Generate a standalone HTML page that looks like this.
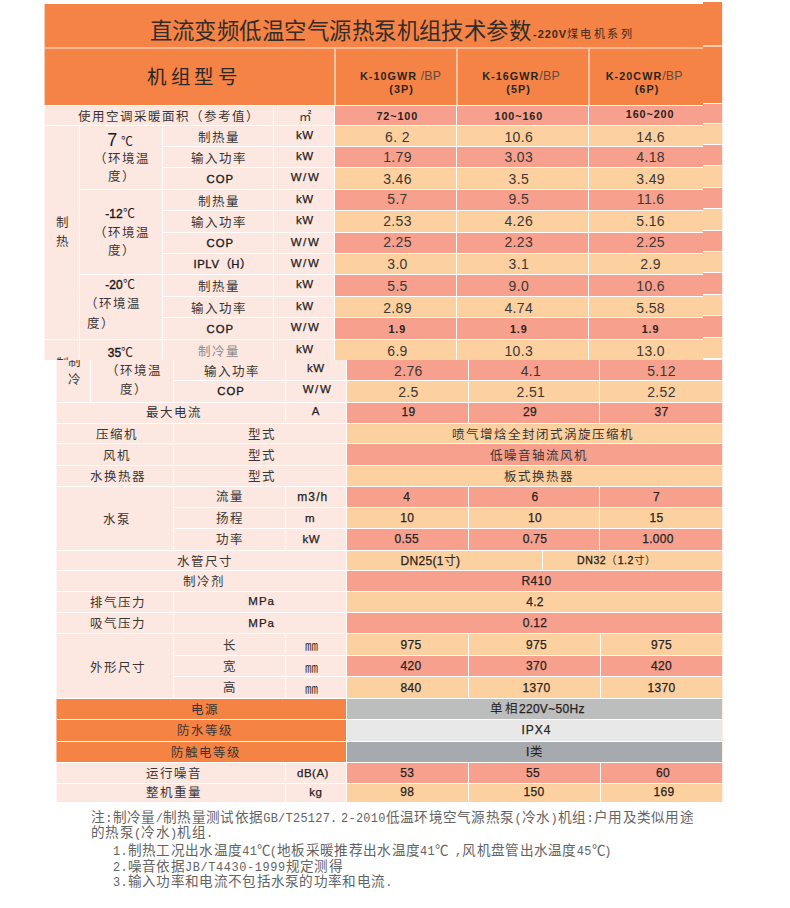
<!DOCTYPE html>
<html lang="zh-CN"><head><meta charset="utf-8"><title>直流变频低温空气源热泵机组技术参数</title>
<style>
html,body{margin:0;padding:0;background:#fff}
body{width:790px;height:908px;position:relative;overflow:hidden;font-family:"Liberation Sans",sans-serif;color:#222}
.b{position:absolute}
.t{position:absolute;white-space:nowrap;transform:translate(-50%,-50%);line-height:1;text-align:center}
.ti{font-size:22.4px;color:#332c28;letter-spacing:.45px;text-indent:.45px}
.ts{font-size:11px;color:#3a2a20}
.ts b{font-weight:bold;letter-spacing:.9px}
.ts i{font-style:normal;font-family:"Liberation Serif",serif;font-size:11px;letter-spacing:2.5px;margin-left:0}
.hd{font-family:"Liberation Serif",serif;font-size:19.5px;letter-spacing:3.4px;color:#2a2624;text-indent:3.4px}
.mh{font-size:10.8px;color:#2b2422;letter-spacing:1.05px}
.mh b{font-weight:bold}
.mh u{text-decoration:none;color:#5a4a44;font-size:12.3px;letter-spacing:.2px}
.cj{margin-top:1px;font-family:"Liberation Serif",serif;font-size:12.5px;letter-spacing:1px;text-indent:1px;color:#3a3432}
.cb{font-weight:bold;font-size:10.8px;letter-spacing:.9px;color:#2a2220}
.cbn{font-size:11.3px;letter-spacing:1px;color:#1c1a1a;-webkit-text-stroke:.35px #1c1a1a}
.un{font-size:11.5px;color:#1e1c1c;-webkit-text-stroke:.25px #1e1c1c;letter-spacing:.5px}
.ar{font-size:14px;color:#3c3836;letter-spacing:.35px}
.tp{font-size:12px;color:#1c1a1a;-webkit-text-stroke:.4px #1c1a1a}
.dc{font-weight:normal;font-size:12px;-webkit-text-stroke:0}
.lb{margin-top:-1px;font-size:12px;color:#262220;-webkit-text-stroke:.25px #262220;letter-spacing:.3px}
.lbs{font-size:10.6px;color:#262220;-webkit-text-stroke:.3px #262220;letter-spacing:.5px}
.cjs{font-family:"Liberation Serif",serif;-webkit-text-stroke:0;font-weight:normal}
.cj2{font-family:"Liberation Serif",serif;-webkit-text-stroke:0;font-size:12.5px;letter-spacing:1.3px}
.n{position:absolute;white-space:nowrap;transform:translate(0,-50%);line-height:1;font-family:"Liberation Serif",serif;font-size:13.6px;letter-spacing:.3px;color:#636363}
.n .m{font-family:"Liberation Mono",monospace;font-size:11.9px}
.n .c{margin-right:-1.8px}
.n .g{display:inline-block;width:3.5px}
.n .w{letter-spacing:.6px}
</style></head>
<body>
<div class="b" style="left:45px;top:4px;width:658px;height:101px;background:#F58345;"></div>
<div class="b" style="left:44px;top:4px;width:1px;height:101px;background:#F58345;opacity:.45;"></div>
<div class="b" style="left:703px;top:2px;width:19px;height:101px;background:#F58345;"></div>
<div class="b" style="left:45px;top:47px;width:658px;height:2px;background:#F9B692;"></div>
<div class="b" style="left:703px;top:45px;width:19px;height:2px;background:#FBCBB0;"></div>
<div class="b" style="left:334px;top:49px;width:2px;height:56px;background:#FBC3A0;"></div>
<div class="b" style="left:456px;top:49px;width:2px;height:56px;background:#FBC3A0;"></div>
<div class="b" style="left:588px;top:49px;width:2px;height:56px;background:#FBC3A0;"></div>
<div class="b" style="left:45px;top:106px;width:290px;height:254px;background:#FCE8E1;"></div>
<div class="b" style="left:44px;top:106px;width:1px;height:254px;background:#FCE8E1;opacity:.45;"></div>
<div class="b" style="left:335px;top:106px;width:121px;height:19px;background:#F6A08D;"></div>
<div class="b" style="left:457px;top:106px;width:131px;height:19px;background:#F6A08D;"></div>
<div class="b" style="left:589px;top:106px;width:114px;height:19px;background:#F6A08D;"></div>
<div class="b" style="left:703px;top:104px;width:19px;height:19px;background:#F6A08D;"></div>
<div class="b" style="left:335px;top:126px;width:121px;height:20px;background:#FDD09F;"></div>
<div class="b" style="left:457px;top:126px;width:131px;height:20px;background:#FDD09F;"></div>
<div class="b" style="left:589px;top:126px;width:114px;height:20px;background:#FDD09F;"></div>
<div class="b" style="left:703px;top:124px;width:19px;height:20px;background:#FDD09F;"></div>
<div class="b" style="left:335px;top:147px;width:121px;height:20px;background:#F6A08D;"></div>
<div class="b" style="left:457px;top:147px;width:131px;height:20px;background:#F6A08D;"></div>
<div class="b" style="left:589px;top:147px;width:114px;height:20px;background:#F6A08D;"></div>
<div class="b" style="left:703px;top:145px;width:19px;height:20px;background:#F6A08D;"></div>
<div class="b" style="left:335px;top:168px;width:121px;height:21px;background:#FDD09F;"></div>
<div class="b" style="left:457px;top:168px;width:131px;height:21px;background:#FDD09F;"></div>
<div class="b" style="left:589px;top:168px;width:114px;height:21px;background:#FDD09F;"></div>
<div class="b" style="left:703px;top:166px;width:19px;height:21px;background:#FDD09F;"></div>
<div class="b" style="left:335px;top:190px;width:121px;height:20px;background:#F6A08D;"></div>
<div class="b" style="left:457px;top:190px;width:131px;height:20px;background:#F6A08D;"></div>
<div class="b" style="left:589px;top:190px;width:114px;height:20px;background:#F6A08D;"></div>
<div class="b" style="left:703px;top:188px;width:19px;height:20px;background:#F6A08D;"></div>
<div class="b" style="left:335px;top:211px;width:121px;height:21px;background:#FDD09F;"></div>
<div class="b" style="left:457px;top:211px;width:131px;height:21px;background:#FDD09F;"></div>
<div class="b" style="left:589px;top:211px;width:114px;height:21px;background:#FDD09F;"></div>
<div class="b" style="left:703px;top:209px;width:19px;height:21px;background:#FDD09F;"></div>
<div class="b" style="left:335px;top:233px;width:121px;height:20px;background:#F6A08D;"></div>
<div class="b" style="left:457px;top:233px;width:131px;height:20px;background:#F6A08D;"></div>
<div class="b" style="left:589px;top:233px;width:114px;height:20px;background:#F6A08D;"></div>
<div class="b" style="left:703px;top:231px;width:19px;height:20px;background:#F6A08D;"></div>
<div class="b" style="left:335px;top:254px;width:121px;height:20px;background:#FDD09F;"></div>
<div class="b" style="left:457px;top:254px;width:131px;height:20px;background:#FDD09F;"></div>
<div class="b" style="left:589px;top:254px;width:114px;height:20px;background:#FDD09F;"></div>
<div class="b" style="left:703px;top:252px;width:19px;height:20px;background:#FDD09F;"></div>
<div class="b" style="left:335px;top:275px;width:121px;height:21px;background:#F6A08D;"></div>
<div class="b" style="left:457px;top:275px;width:131px;height:21px;background:#F6A08D;"></div>
<div class="b" style="left:589px;top:275px;width:114px;height:21px;background:#F6A08D;"></div>
<div class="b" style="left:703px;top:273px;width:19px;height:21px;background:#F6A08D;"></div>
<div class="b" style="left:335px;top:297px;width:121px;height:20px;background:#FDD09F;"></div>
<div class="b" style="left:457px;top:297px;width:131px;height:20px;background:#FDD09F;"></div>
<div class="b" style="left:589px;top:297px;width:114px;height:20px;background:#FDD09F;"></div>
<div class="b" style="left:703px;top:295px;width:19px;height:20px;background:#FDD09F;"></div>
<div class="b" style="left:335px;top:318px;width:121px;height:21px;background:#F6A08D;"></div>
<div class="b" style="left:457px;top:318px;width:131px;height:21px;background:#F6A08D;"></div>
<div class="b" style="left:589px;top:318px;width:114px;height:21px;background:#F6A08D;"></div>
<div class="b" style="left:703px;top:316px;width:19px;height:21px;background:#F6A08D;"></div>
<div class="b" style="left:335px;top:340px;width:121px;height:20px;background:#FDD09F;"></div>
<div class="b" style="left:457px;top:340px;width:131px;height:20px;background:#FDD09F;"></div>
<div class="b" style="left:589px;top:340px;width:114px;height:20px;background:#FDD09F;"></div>
<div class="b" style="left:703px;top:338px;width:19px;height:20px;background:#FDD09F;"></div>
<div class="b" style="left:162px;top:125px;width:172px;height:1px;background:#fff;"></div>
<div class="b" style="left:162px;top:146px;width:172px;height:1px;background:#fff;"></div>
<div class="b" style="left:162px;top:167px;width:172px;height:1px;background:#fff;"></div>
<div class="b" style="left:162px;top:189px;width:172px;height:1px;background:#fff;"></div>
<div class="b" style="left:162px;top:210px;width:172px;height:1px;background:#fff;"></div>
<div class="b" style="left:162px;top:232px;width:172px;height:1px;background:#fff;"></div>
<div class="b" style="left:162px;top:253px;width:172px;height:1px;background:#fff;"></div>
<div class="b" style="left:162px;top:274px;width:172px;height:1px;background:#fff;"></div>
<div class="b" style="left:162px;top:296px;width:172px;height:1px;background:#fff;"></div>
<div class="b" style="left:162px;top:317px;width:172px;height:1px;background:#fff;"></div>
<div class="b" style="left:162px;top:339px;width:172px;height:1px;background:#fff;"></div>
<div class="b" style="left:45px;top:125px;width:117px;height:1px;background:#fff;"></div>
<div class="b" style="left:79px;top:189px;width:83px;height:1px;background:#fff;"></div>
<div class="b" style="left:79px;top:274px;width:83px;height:1px;background:#fff;"></div>
<div class="b" style="left:45px;top:339px;width:117px;height:1px;background:#fff;"></div>
<div class="b" style="left:79px;top:126px;width:1px;height:234px;background:#fff;"></div>
<div class="b" style="left:162px;top:126px;width:1px;height:234px;background:#fff;"></div>
<div class="b" style="left:273px;top:106px;width:1px;height:254px;background:#fff;"></div>
<div class="b" style="left:334px;top:106px;width:1px;height:254px;background:#fff;"></div>
<div class="b" style="left:57px;top:360px;width:289px;height:442px;background:#FCE8E1;"></div>
<div class="b" style="left:56px;top:360px;width:1px;height:442px;background:#FCE8E1;opacity:.5;"></div>
<div class="b" style="left:56px;top:699px;width:1px;height:63px;background:#F58344;opacity:.5;"></div>
<div class="b" style="left:347px;top:360px;width:121px;height:20px;background:#F6A08D;"></div>
<div class="b" style="left:469px;top:360px;width:130px;height:20px;background:#F6A08D;"></div>
<div class="b" style="left:600px;top:360px;width:122px;height:20px;background:#F6A08D;"></div>
<div class="b" style="left:347px;top:381px;width:121px;height:21px;background:#FDD09F;"></div>
<div class="b" style="left:469px;top:381px;width:130px;height:21px;background:#FDD09F;"></div>
<div class="b" style="left:600px;top:381px;width:122px;height:21px;background:#FDD09F;"></div>
<div class="b" style="left:347px;top:403px;width:121px;height:20px;background:#F6A08D;"></div>
<div class="b" style="left:469px;top:403px;width:130px;height:20px;background:#F6A08D;"></div>
<div class="b" style="left:600px;top:403px;width:122px;height:20px;background:#F6A08D;"></div>
<div class="b" style="left:347px;top:424px;width:375px;height:19px;background:#FDD09F;"></div>
<div class="b" style="left:347px;top:444px;width:375px;height:21px;background:#F6A08D;"></div>
<div class="b" style="left:347px;top:466px;width:375px;height:20px;background:#FDD09F;"></div>
<div class="b" style="left:347px;top:487px;width:121px;height:20px;background:#F6A08D;"></div>
<div class="b" style="left:469px;top:487px;width:130px;height:20px;background:#F6A08D;"></div>
<div class="b" style="left:600px;top:487px;width:122px;height:20px;background:#F6A08D;"></div>
<div class="b" style="left:347px;top:508px;width:121px;height:20px;background:#FDD09F;"></div>
<div class="b" style="left:469px;top:508px;width:130px;height:20px;background:#FDD09F;"></div>
<div class="b" style="left:600px;top:508px;width:122px;height:20px;background:#FDD09F;"></div>
<div class="b" style="left:347px;top:529px;width:121px;height:21px;background:#F6A08D;"></div>
<div class="b" style="left:469px;top:529px;width:130px;height:21px;background:#F6A08D;"></div>
<div class="b" style="left:600px;top:529px;width:122px;height:21px;background:#F6A08D;"></div>
<div class="b" style="left:347px;top:551px;width:195px;height:19px;background:#FDD09F;"></div>
<div class="b" style="left:543px;top:551px;width:179px;height:19px;background:#FDD09F;"></div>
<div class="b" style="left:347px;top:571px;width:375px;height:20px;background:#F6A08D;"></div>
<div class="b" style="left:347px;top:592px;width:375px;height:20px;background:#FDD09F;"></div>
<div class="b" style="left:347px;top:613px;width:375px;height:20px;background:#F6A08D;"></div>
<div class="b" style="left:347px;top:634px;width:121px;height:21px;background:#FDD09F;"></div>
<div class="b" style="left:469px;top:634px;width:131px;height:21px;background:#FDD09F;"></div>
<div class="b" style="left:601px;top:634px;width:121px;height:21px;background:#FDD09F;"></div>
<div class="b" style="left:347px;top:656px;width:121px;height:20px;background:#F6A08D;"></div>
<div class="b" style="left:469px;top:656px;width:131px;height:20px;background:#F6A08D;"></div>
<div class="b" style="left:601px;top:656px;width:121px;height:20px;background:#F6A08D;"></div>
<div class="b" style="left:347px;top:677px;width:121px;height:21px;background:#FDD09F;"></div>
<div class="b" style="left:469px;top:677px;width:131px;height:21px;background:#FDD09F;"></div>
<div class="b" style="left:601px;top:677px;width:121px;height:21px;background:#FDD09F;"></div>
<div class="b" style="left:57px;top:699px;width:289px;height:20px;background:#F58344;"></div>
<div class="b" style="left:347px;top:699px;width:375px;height:20px;background:#BCBDBD;"></div>
<div class="b" style="left:57px;top:720px;width:289px;height:21px;background:#F58344;"></div>
<div class="b" style="left:347px;top:720px;width:375px;height:21px;background:#E8E8E8;"></div>
<div class="b" style="left:57px;top:742px;width:289px;height:20px;background:#F58344;"></div>
<div class="b" style="left:347px;top:742px;width:375px;height:20px;background:#A6AAAF;"></div>
<div class="b" style="left:347px;top:763px;width:121px;height:20px;background:#F6A08D;"></div>
<div class="b" style="left:469px;top:763px;width:131px;height:20px;background:#F6A08D;"></div>
<div class="b" style="left:601px;top:763px;width:121px;height:20px;background:#F6A08D;"></div>
<div class="b" style="left:347px;top:784px;width:121px;height:18px;background:#FDD09F;"></div>
<div class="b" style="left:469px;top:784px;width:131px;height:18px;background:#FDD09F;"></div>
<div class="b" style="left:601px;top:784px;width:121px;height:18px;background:#FDD09F;"></div>
<div class="b" style="left:173px;top:380px;width:173px;height:1px;background:#fff;"></div>
<div class="b" style="left:57px;top:402px;width:289px;height:1px;background:#fff;"></div>
<div class="b" style="left:57px;top:423px;width:289px;height:1px;background:#fff;"></div>
<div class="b" style="left:57px;top:443px;width:289px;height:1px;background:#fff;"></div>
<div class="b" style="left:57px;top:465px;width:289px;height:1px;background:#fff;"></div>
<div class="b" style="left:57px;top:486px;width:289px;height:1px;background:#fff;"></div>
<div class="b" style="left:173px;top:507px;width:173px;height:1px;background:#fff;"></div>
<div class="b" style="left:173px;top:528px;width:173px;height:1px;background:#fff;"></div>
<div class="b" style="left:57px;top:550px;width:289px;height:1px;background:#fff;"></div>
<div class="b" style="left:57px;top:570px;width:289px;height:1px;background:#fff;"></div>
<div class="b" style="left:57px;top:591px;width:289px;height:1px;background:#fff;"></div>
<div class="b" style="left:57px;top:612px;width:289px;height:1px;background:#fff;"></div>
<div class="b" style="left:57px;top:633px;width:289px;height:1px;background:#fff;"></div>
<div class="b" style="left:173px;top:655px;width:173px;height:1px;background:#fff;"></div>
<div class="b" style="left:173px;top:676px;width:173px;height:1px;background:#fff;"></div>
<div class="b" style="left:57px;top:698px;width:289px;height:1px;background:#fff;"></div>
<div class="b" style="left:57px;top:719px;width:289px;height:1px;background:#fff;"></div>
<div class="b" style="left:57px;top:741px;width:289px;height:1px;background:#fff;"></div>
<div class="b" style="left:57px;top:762px;width:289px;height:1px;background:#fff;"></div>
<div class="b" style="left:57px;top:783px;width:289px;height:1px;background:#fff;"></div>
<div class="b" style="left:90px;top:360px;width:1px;height:42px;background:#fff;"></div>
<div class="b" style="left:173px;top:360px;width:1px;height:42px;background:#fff;"></div>
<div class="b" style="left:285px;top:360px;width:1px;height:63px;background:#fff;"></div>
<div class="b" style="left:173px;top:423px;width:1px;height:127px;background:#fff;"></div>
<div class="b" style="left:285px;top:486px;width:1px;height:64px;background:#fff;"></div>
<div class="b" style="left:173px;top:591px;width:1px;height:107px;background:#fff;"></div>
<div class="b" style="left:285px;top:633px;width:1px;height:65px;background:#fff;"></div>
<div class="b" style="left:285px;top:762px;width:1px;height:40px;background:#fff;"></div>
<div class="b" style="left:346px;top:360px;width:1px;height:442px;background:#fff;"></div>
<div class="b" style="left:722px;top:3px;width:1px;height:799px;background:#F9B9A0;opacity:.3;"></div>
<span class="t ti" style="left:340.2px;top:31.5px;">直流变频低温空气源热泵机组技术参数</span>
<span class="t ts" style="left:583.8px;top:33.5px;"><b>-220V</b><i>煤电机系列</i></span>
<span class="t hd" style="left:192.5px;top:77.5px;">机组型号</span>
<span class="t mh" style="left:400.5px;top:76px;"><b>K-10GWR</b><u> /BP</u></span>
<span class="t mh" style="left:401.6px;top:88.8px;"><b>(3P)</b></span>
<span class="t mh" style="left:521px;top:76px;"><b>K-16GWR</b><u>/BP</u></span>
<span class="t mh" style="left:518.6px;top:88.8px;"><b>(5P)</b></span>
<span class="t mh" style="left:644.2px;top:76px;"><b>K-20CWR</b><u>/BP</u></span>
<span class="t mh" style="left:647px;top:88.8px;"><b>(6P)</b></span>
<span class="t cj" style="left:168px;top:115.7px;">使用空调采暖面积（参考值）</span>
<span class="t cj" style="left:305px;top:116px;">㎡</span>
<span class="t cb" style="left:397.3px;top:115.5px;">72~100</span>
<span class="t cb" style="left:518.8px;top:115.5px;">100~160</span>
<span class="t cb" style="left:650.1px;top:114.0px;">160~200</span>
<span class="t cj" style="left:218.8px;top:136.8px;">制热量</span>
<span class="t un" style="left:304.9px;top:135.5px;">kW</span>
<span class="t ar" style="left:397.5px;top:136.5px;">6. 2</span>
<span class="t ar" style="left:518.8px;top:136.5px;">10.6</span>
<span class="t ar" style="left:650.6px;top:136.5px;">14.6</span>
<span class="t cj" style="left:218.8px;top:157.8px;">输入功率</span>
<span class="t un" style="left:304.9px;top:156.5px;">kW</span>
<span class="t ar" style="left:397.5px;top:157.0px;">1.79</span>
<span class="t ar" style="left:518.8px;top:157.0px;">3.03</span>
<span class="t ar" style="left:650.6px;top:157.0px;">4.18</span>
<span class="t cbn" style="left:220.3px;top:179.5px;">COP</span>
<span class="t un" style="left:305.5px;top:178.0px;letter-spacing:1.6px">W/W</span>
<span class="t ar" style="left:397.5px;top:179.0px;">3.46</span>
<span class="t ar" style="left:518.8px;top:179.0px;">3.5</span>
<span class="t ar" style="left:650.6px;top:179.0px;">3.49</span>
<span class="t cj" style="left:218.8px;top:200.8px;">制热量</span>
<span class="t un" style="left:304.9px;top:199.5px;">kW</span>
<span class="t ar" style="left:397.5px;top:199.2px;">5.7</span>
<span class="t ar" style="left:518.8px;top:199.2px;">9.5</span>
<span class="t ar" style="left:650.6px;top:199.2px;">11.6</span>
<span class="t cj" style="left:218.8px;top:222.3px;">输入功率</span>
<span class="t un" style="left:304.9px;top:221.0px;">kW</span>
<span class="t ar" style="left:397.5px;top:220.8px;">2.53</span>
<span class="t ar" style="left:518.8px;top:220.8px;">4.26</span>
<span class="t ar" style="left:650.6px;top:220.8px;">5.16</span>
<span class="t cbn" style="left:220.3px;top:244.0px;">COP</span>
<span class="t un" style="left:305.5px;top:242.5px;letter-spacing:1.6px">W/W</span>
<span class="t ar" style="left:397.5px;top:242.3px;">2.25</span>
<span class="t ar" style="left:518.8px;top:242.3px;">2.23</span>
<span class="t ar" style="left:650.6px;top:242.3px;">2.25</span>
<span class="t cbn" style="left:222.5px;top:265.0px;letter-spacing:.6px">IPLV（H）</span>
<span class="t un" style="left:305.5px;top:263.5px;letter-spacing:1.6px">W/W</span>
<span class="t ar" style="left:397.5px;top:263.5px;">3.0</span>
<span class="t ar" style="left:518.8px;top:263.5px;">3.1</span>
<span class="t ar" style="left:650.6px;top:263.5px;">2.9</span>
<span class="t cj" style="left:218.8px;top:286.3px;">制热量</span>
<span class="t un" style="left:304.9px;top:285.0px;">kW</span>
<span class="t ar" style="left:397.5px;top:285.5px;">5.5</span>
<span class="t ar" style="left:518.8px;top:285.5px;">9.0</span>
<span class="t ar" style="left:650.6px;top:285.5px;">10.6</span>
<span class="t cj" style="left:218.8px;top:307.8px;">输入功率</span>
<span class="t un" style="left:304.9px;top:306.5px;">kW</span>
<span class="t ar" style="left:397.5px;top:307.5px;">2.89</span>
<span class="t ar" style="left:518.8px;top:307.5px;">4.74</span>
<span class="t ar" style="left:650.6px;top:307.5px;">5.58</span>
<span class="t cbn" style="left:220.3px;top:329.5px;">COP</span>
<span class="t un" style="left:305.5px;top:328.0px;letter-spacing:1.6px">W/W</span>
<span class="t cb" style="left:397.3px;top:328.5px;">1.9</span>
<span class="t cb" style="left:518.8px;top:328.5px;">1.9</span>
<span class="t cb" style="left:650.5px;top:328.5px;">1.9</span>
<span class="t cj" style="left:218.8px;top:350.8px;color:#8f8984;">制冷量</span>
<span class="t un" style="left:304.9px;top:349.5px;">kW</span>
<span class="t ar" style="left:397.5px;top:350.5px;">6.9</span>
<span class="t ar" style="left:518.8px;top:350.5px;">10.3</span>
<span class="t ar" style="left:650.6px;top:350.5px;">13.0</span>
<span class="t cj" style="left:62.8px;top:222px;">制</span>
<span class="t cj" style="left:62.8px;top:241px;">热</span>
<span class="t tp" style="left:120px;top:140px;"><span style="font-size:18px;letter-spacing:0;-webkit-text-stroke:0">7</span><span class="dc"> ℃</span></span>
<span class="t cj" style="left:121px;top:158px;">（环境温</span>
<span class="t cj" style="left:121px;top:176.3px;">度）</span>
<span class="t tp" style="left:120px;top:214px;">-12<span class="dc">℃</span></span>
<span class="t cj" style="left:121px;top:232.3px;">（环境温</span>
<span class="t cj" style="left:121px;top:250.4px;">度）</span>
<span class="t tp" style="left:120px;top:284.5px;">-20<span class="dc">℃</span></span>
<span class="t cj" style="left:112.5px;top:303px;">（环境温</span>
<span class="t cj" style="left:100px;top:322.5px;">度）</span>
<span class="t tp" style="left:120.5px;top:352.6px;">35<span class="dc">℃</span></span>
<div class="b" style="left:50px;top:350px;width:26px;height:10px;overflow:hidden"><span class="t cj" style="left:12.8px;top:13.2px">制</span></div>
<div class="b" style="left:60px;top:360px;width:28px;height:12px;overflow:hidden"><span class="t cj" style="left:14px;top:0.5px">制</span></div>
<span class="t cj" style="left:74.2px;top:379px;">冷</span>
<span class="t cj" style="left:133.5px;top:370.2px;">（环境温</span>
<span class="t cj" style="left:133px;top:389px;">度）</span>
<span class="t cj" style="left:231.4px;top:370.6px;">输入功率</span>
<span class="t cbn" style="left:231px;top:391.8px;">COP</span>
<span class="t un" style="left:315.9px;top:369.4px;">kW</span>
<span class="t un" style="left:317.5px;top:390.3px;letter-spacing:1.6px">W/W</span>
<span class="t ar" style="left:408.4px;top:370.5px;">2.76</span>
<span class="t ar" style="left:530.9px;top:370.5px;">4.1</span>
<span class="t ar" style="left:661.5px;top:370.5px;">5.12</span>
<span class="t ar" style="left:408.4px;top:391.8px;">2.5</span>
<span class="t ar" style="left:530.9px;top:391.8px;">2.51</span>
<span class="t ar" style="left:661.5px;top:391.8px;">2.52</span>
<span class="t cj" style="left:173px;top:412px;">最大电流</span>
<span class="t un" style="left:315.9px;top:412px;">A</span>
<span class="t lb" style="left:408.4px;top:412.5px;">19</span>
<span class="t lb" style="left:529.9px;top:412.5px;">29</span>
<span class="t lb" style="left:661.5px;top:412.5px;">37</span>
<span class="t cj" style="left:116.5px;top:433.6px;">压缩机</span>
<span class="t cj" style="left:261.5px;top:433.6px;">型式</span>
<span class="t cj" style="left:542.5px;top:433.6px;">喷气增焓全封闭式涡旋压缩机</span>
<span class="t cj" style="left:116px;top:454.5px;">风机</span>
<span class="t cj" style="left:261.5px;top:454.5px;">型式</span>
<span class="t cj" style="left:538.5px;top:454.5px;">低噪音轴流风机</span>
<span class="t cj" style="left:117.5px;top:475.8px;">水换热器</span>
<span class="t cj" style="left:261.5px;top:475.8px;">型式</span>
<span class="t cj" style="left:538.5px;top:475.8px;">板式换热器</span>
<span class="t cj" style="left:229.5px;top:496.3px;">流量</span>
<span class="t un" style="left:312.8px;top:497px;letter-spacing:1.1px;font-size:12px">m3/h</span>
<span class="t lb" style="left:406.8px;top:497.5px;">4</span>
<span class="t lb" style="left:535px;top:497.5px;">6</span>
<span class="t lb" style="left:656.5px;top:497.5px;">7</span>
<span class="t cj" style="left:116px;top:519px;">水泵</span>
<span class="t cj" style="left:229.5px;top:517.5px;">扬程</span>
<span class="t un" style="left:310px;top:518.5px;">m</span>
<span class="t lb" style="left:407.3px;top:518.5px;">10</span>
<span class="t lb" style="left:535px;top:518.5px;">10</span>
<span class="t lb" style="left:656.5px;top:518.5px;">15</span>
<span class="t cj" style="left:229.5px;top:538.8px;">功率</span>
<span class="t un" style="left:311.3px;top:539.5px;">kW</span>
<span class="t lb" style="left:406.8px;top:540px;">0.55</span>
<span class="t lb" style="left:535px;top:540px;">0.75</span>
<span class="t lb" style="left:658px;top:540px;">1.000</span>
<span class="t cj" style="left:204px;top:561.2px;">水管尺寸</span>
<span class="t lb" style="left:430.5px;top:561.5px;">DN25(1<span class="cjs">寸</span>)</span>
<span class="t lbs" style="left:617px;top:561px;">DN32<span class="cjs">（</span>1.2<span class="cjs">寸）</span></span>
<span class="t cj" style="left:203.5px;top:580.5px;">制冷剂</span>
<span class="t lb" style="left:536.5px;top:581.5px;">R410</span>
<span class="t cj" style="left:117.5px;top:601.8px;">排气压力</span>
<span class="t un" style="left:261.7px;top:602.3px;letter-spacing:1px">MPa</span>
<span class="t lb" style="left:535px;top:602.5px;">4.2</span>
<span class="t cj" style="left:117.5px;top:623px;">吸气压力</span>
<span class="t un" style="left:261.7px;top:623.5px;letter-spacing:1px">MPa</span>
<span class="t lb" style="left:535px;top:624px;">0.12</span>
<span class="t cj" style="left:229.3px;top:644.8px;">长</span>
<span class="t cj" style="left:311.3px;top:644px;font-size:13px;letter-spacing:0;text-indent:0">㎜</span>
<span class="t lb" style="left:410.9px;top:645.5px;">975</span>
<span class="t lb" style="left:536.5px;top:645.5px;">975</span>
<span class="t lb" style="left:661.5px;top:645.5px;">975</span>
<span class="t cj" style="left:117.5px;top:666.8px;">外形尺寸</span>
<span class="t cj" style="left:229.3px;top:665.6px;">宽</span>
<span class="t cj" style="left:311.3px;top:665.5px;font-size:13px;letter-spacing:0;text-indent:0">㎜</span>
<span class="t lb" style="left:410.9px;top:667px;">420</span>
<span class="t lb" style="left:536.5px;top:667px;">370</span>
<span class="t lb" style="left:661.5px;top:667px;">420</span>
<span class="t cj" style="left:229.3px;top:687.3px;">高</span>
<span class="t cj" style="left:311.3px;top:687px;font-size:13px;letter-spacing:0;text-indent:0">㎜</span>
<span class="t lb" style="left:410.9px;top:688.5px;">840</span>
<span class="t lb" style="left:536.5px;top:688.5px;">1370</span>
<span class="t lb" style="left:661.5px;top:688.5px;">1370</span>
<span class="t cj" style="left:204px;top:708.6px;">电源</span>
<span class="t lb" style="left:537.5px;top:709.5px;"><span class="cj2">单相</span>220V~50Hz</span>
<span class="t cj" style="left:204.5px;top:730.2px;">防水等级</span>
<span class="t lb" style="left:536.5px;top:731px;letter-spacing:1px">IPX4</span>
<span class="t cj" style="left:205.5px;top:751.5px;">防触电等级</span>
<span class="t lb" style="left:535px;top:752.5px;">I<span class="cj2">类</span></span>
<span class="t cj" style="left:173px;top:773px;">运行噪音</span>
<span class="t un" style="left:313px;top:773.5px;">dB(A)</span>
<span class="t lb" style="left:407.3px;top:773.5px;">53</span>
<span class="t lb" style="left:533px;top:773.5px;">55</span>
<span class="t lb" style="left:663px;top:773.5px;">60</span>
<span class="t cj" style="left:173px;top:792px;">整机重量</span>
<span class="t un" style="left:315.9px;top:793px;">kg</span>
<span class="t lb" style="left:407.3px;top:793px;">98</span>
<span class="t lb" style="left:534px;top:793px;">150</span>
<span class="t lb" style="left:664px;top:793px;">169</span>
<span class="n" style="left:91px;top:818px">注<span class="m">:</span>制冷量<span class="m">/</span>制热量测试依据<span class="m">GB/T25127.<span class="g"></span>2-2010</span>低温环境空气源热泵<span class="m">(</span>冷水<span class="m">)</span>机组<span class="m">:</span>户用及类似用途</span>
<span class="n" style="left:91px;top:833.2px">的热泵<span class="m">(</span>冷水<span class="m">)</span>机组<span class="m">.</span></span>
<span class="n" style="left:113px;top:850.5px"><span class="m">1.</span>制热工况出水温度<span class="m">41</span><span class="c">℃</span><span class="m">(</span>地板采暖推荐出水温度<span class="m">41</span><span class="c">℃</span><span class="m"> ,</span>风机盘管出水温度<span class="m">45</span><span class="c">℃</span><span class="m">)</span></span>
<span class="n" style="left:113px;top:866.6px"><span class="m">2.</span>噪音依据<span class="m w">JB/T4430-1999</span>规定测得</span>
<span class="n" style="left:113px;top:882.2px"><span class="m">3.</span>输入功率和电流不包括水泵的功率和电流<span class="m">.</span></span>
</body></html>
